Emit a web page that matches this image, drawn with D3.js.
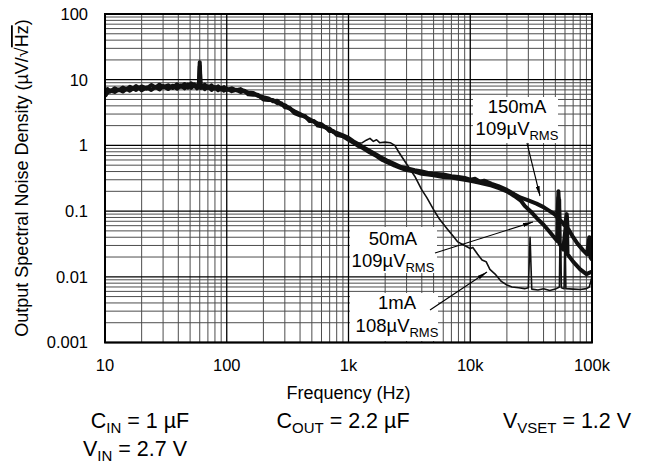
<!DOCTYPE html>
<html>
<head>
<meta charset="utf-8">
<script src="https://cdn.jsdelivr.net/npm/d3@7"></script>
<style>
  body { margin: 0; background: #fff; }
  text { font-family: "Liberation Sans", Arial, Helvetica, sans-serif; fill: #000; }
</style>
</head>
<body>
<div id="chart"></div>
<script>
// tick labels
const xTickVals = [10, 100, 1000, 10000, 100000];
const xTickText = ["10", "100", "1k", "10k", "100k"];
const yTickVals = [0.001, 0.01, 0.1, 1, 10, 100];
const yTickText = ["0.001", "0.01", "0.1", "1", "10", "100"];

// upper edge of the common band (10 Hz .. 1 kHz), [Hz, uV/rtHz]
const lowBandA = [[10,6.0],[10.5,7.2],[11,6.6],[12,7.4],[13,6.9],[14,7.6],[15,7.1],[16,7.8],[17,7.3],[18,8.0],[19,7.4],
  [20,7.9],[22,7.3],[24,8.3],[26,7.6],[28,8.4],[30,7.7],[33,8.2],[36,7.5],[39,8.5],[42,7.8],[45,8.6],[48,7.6],
  [51,8.8],[54,7.9],[57,8.3],[59,8.0],[60,18.5],[61,8.2],[63,7.6],[66,8.4],[70,7.5],[75,8.2],[80,7.3],[85,7.9],
  [90,7.1],[95,7.7],[100,7.0],[110,7.4],[120,6.9],[130,7.2],[140,6.6],[150,6.4],[165,6.3],[180,5.7],[200,5.4],
  [220,5.2],[240,4.7],[260,4.8],[280,4.2],[300,4.1],[330,3.6],[360,3.3],[400,3.0],[440,2.7],[480,2.5],[520,2.3],
  [560,2.15],[600,2.1],[650,1.85],[700,1.8],[750,1.6],[800,1.55],[900,1.42],[1000,1.3]];
// lower edge of the same band
const lowBandB = [[10,5.6],[10.5,6.4],[11,6.9],[12,6.5],[13,7.1],[14,6.6],[15,7.3],[16,6.8],[17,7.4],[18,7.0],[19,7.6],
  [20,6.9],[22,7.6],[24,7.0],[26,7.8],[28,7.1],[30,8.0],[33,7.2],[36,8.1],[39,7.3],[42,8.2],[45,7.4],[48,8.4],
  [51,7.5],[54,8.5],[57,7.4],[59,7.9],[60,16],[61,7.5],[63,8.1],[66,7.2],[70,7.9],[75,7.0],[80,7.7],[85,6.9],
  [90,7.5],[95,6.8],[100,7.3],[110,6.7],[120,7.0],[130,6.5],[140,6.8],[150,6.0],[165,5.9],[180,5.9],[200,5.0],
  [220,4.9],[240,4.9],[260,4.4],[280,4.4],[300,3.8],[330,3.7],[360,3.1],[400,2.85],[440,2.8],[480,2.35],[520,2.35],
  [560,2.0],[600,1.95],[650,1.9],[700,1.65],[750,1.65],[800,1.45],[900,1.38],[1000,1.22]];

// 150 mA and 50 mA run together until ~25 kHz
const midBandA = [[1100,1.15],[1200,1.05],[1300,0.95],[1500,0.82],[1700,0.72],[1900,0.64],[2100,0.58],[2400,0.52],
  [2700,0.47],[3000,0.45],[3500,0.42],[4000,0.40],[4500,0.38],[5000,0.37],[6000,0.36],[7000,0.34],[8000,0.33],
  [9000,0.32],[10000,0.30],[11000,0.31],[12000,0.28],[13000,0.29],[15000,0.26],[17000,0.24],[20000,0.21],
  [23000,0.18],[26000,0.16]];
const midBandB = [[1100,1.1],[1200,0.98],[1300,0.92],[1500,0.78],[1700,0.69],[1900,0.6],[2100,0.55],[2400,0.49],
  [2700,0.45],[3000,0.42],[3500,0.40],[4000,0.37],[4500,0.36],[5000,0.35],[6000,0.33],[7000,0.325],[8000,0.31],
  [9000,0.3],[10000,0.29],[11000,0.28],[12000,0.27],[13000,0.26],[15000,0.245],[17000,0.225],[20000,0.2],
  [23000,0.17],[26000,0.145]];

const tail150 = [[30000,0.145],[35000,0.13],[40000,0.115],[45000,0.1],[50000,0.088],[52000,0.08],[53000,0.2],
  [54000,0.075],[60000,0.06],[62000,0.09],[63000,0.056],[70000,0.04],[76000,0.032],[85000,0.025],[91000,0.022],
  [95000,0.04],[97000,0.02],[100000,0.018]];

const tail50 = [[28000,0.12],[32000,0.095],[36000,0.075],[40000,0.062],[45000,0.048],[50000,0.038],[52000,0.035],
  [53000,0.16],[54000,0.032],[58000,0.026],[62000,0.08],[63000,0.022],[70000,0.017],[80000,0.013],[90000,0.011],
  [100000,0.012]];

const tail1 = [[1100,1.15],[1200,1.08],[1300,1.1],[1400,1.2],[1500,1.28],[1600,1.15],[1700,1.22],[1800,1.1],
  [2000,1.12],[2200,1.1],[2400,1.0],[2600,0.78],[3000,0.52],[3500,0.34],[4000,0.21],[4400,0.16],[5000,0.105],
  [5600,0.075],[6500,0.053],[7200,0.042],[7900,0.034],[9000,0.030],[10000,0.027],[10500,0.028],[11500,0.022],
  [12500,0.018],[13500,0.017],[14500,0.013],[16000,0.011],[18000,0.0085],[20000,0.0075],[22000,0.007],
  [25000,0.0068],[28000,0.0066],[30000,0.0068],[31000,0.04],[32000,0.0065],[36000,0.0063],[40000,0.0066],
  [45000,0.0062],[50000,0.0065],[54000,0.007],[55000,0.15],[56000,0.0068],[59000,0.0066],[60000,0.06],
  [61000,0.0066],[70000,0.0065],[80000,0.0064],[90000,0.0066],[95000,0.007],[100000,0.01]];

const series150 = lowBandA.concat(midBandA, tail150);
const series50 = lowBandB.concat(midBandB, tail50);
const series1 = lowBandA.concat(tail1);

const W = 645, H = 466;
const margin = { top: 14, left: 105, right: 53, bottom: 123.5 };
const pw = W - margin.left - margin.right;
const ph = H - margin.top - margin.bottom;

const x = d3.scaleLog().domain([10, 100000]).range([0, pw]);
const y = d3.scaleLog().domain([0.001, 100]).range([ph, 0]);

const svg = d3.select("#chart").append("svg").attr("width", W).attr("height", H);

const defs = svg.append("defs");
defs.append("clipPath").attr("id", "plotClip").append("rect").attr("width", pw).attr("height", ph);
defs.append("marker").attr("id", "arrow").attr("viewBox", "0 0 10 4").attr("refX", 10).attr("refY", 2)
  .attr("markerWidth", 10).attr("markerHeight", 4).attr("markerUnits", "userSpaceOnUse").attr("orient", "auto")
  .append("path").attr("d", "M0,0L10,2L0,4Z").attr("fill", "#000");

const g = svg.append("g").attr("transform", "translate(" + margin.left + "," + margin.top + ")");

// grid: every 1..9 of each decade
let xMinor = [], yMinor = [];
for (let d = 10; d < 100000; d *= 10) for (let k = 2; k <= 9; k++) xMinor.push(d * k);
for (let d = 0.001; d < 99; d *= 10) for (let k = 2; k <= 9; k++) yMinor.push(d * k);

const grid = g.append("g");
grid.selectAll(".xm").data(xMinor).enter().append("line")
  .attr("x1", d => x(d)).attr("x2", d => x(d)).attr("y1", 0).attr("y2", ph)
  .attr("stroke", "#4d4d4d").attr("stroke-width", 1);
grid.selectAll(".ym").data(yMinor).enter().append("line")
  .attr("y1", d => y(d)).attr("y2", d => y(d)).attr("x1", 0).attr("x2", pw)
  .attr("stroke", "#4d4d4d").attr("stroke-width", 1);
grid.selectAll(".xM").data(xTickVals).enter().append("line")
  .attr("x1", d => x(d)).attr("x2", d => x(d)).attr("y1", 0).attr("y2", ph)
  .attr("stroke", "#000").attr("stroke-width", 1.3);
grid.selectAll(".yM").data(yTickVals).enter().append("line")
  .attr("y1", d => y(d)).attr("y2", d => y(d)).attr("x1", 0).attr("x2", pw)
  .attr("stroke", "#000").attr("stroke-width", 1.3);

// traces
const line = d3.line().x(d => x(d[0])).y(d => y(d[1]));
const traces = g.append("g").attr("clip-path", "url(#plotClip)");
traces.append("path").datum(series1).attr("d", line).attr("fill", "none")
  .attr("stroke", "#111").attr("stroke-width", 1.6).attr("stroke-linejoin", "round");
traces.append("path").datum(series50).attr("d", line).attr("fill", "none")
  .attr("stroke", "#111").attr("stroke-width", 4).attr("stroke-linejoin", "round");
traces.append("path").datum(series150).attr("d", line).attr("fill", "none")
  .attr("stroke", "#111").attr("stroke-width", 4).attr("stroke-linejoin", "round");

// border
g.append("rect").attr("width", pw).attr("height", ph).attr("fill", "none")
  .attr("stroke", "#000").attr("stroke-width", 2);

// tick labels
g.selectAll(".xt").data(xTickVals).enter().append("text")
  .attr("x", d => x(d)).attr("y", ph + 28).attr("text-anchor", "middle")
  .attr("font-size", 16.5).text((d, i) => xTickText[i]);
g.selectAll(".yt").data(yTickVals).enter().append("text")
  .attr("x", -17).attr("y", d => y(d)).attr("dy", "0.36em").attr("text-anchor", "end")
  .attr("font-size", 16.5).text((d, i) => yTickText[i]);

// axis titles
svg.append("text").attr("x", margin.left + pw / 2).attr("y", 399).attr("text-anchor", "middle")
  .attr("font-size", 18).text("Frequency (Hz)");
const yt = svg.append("text").attr("transform", "translate(28,178) rotate(-90)").attr("text-anchor", "middle")
  .attr("font-size", 18);
yt.append("tspan").text("Output Spectral Noise Density (µV/√");
yt.append("tspan").attr("text-decoration", "overline").text("Hz");
yt.append("tspan").text(")");

// annotations
const notes = [
  { a: "150mA", b: "109µV", cx: 517, y1: 113, y2: 135, box: [473, 97, 85, 46], from: [527, 143], to: [540, 196] },
  { a: "50mA", b: "109µV", cx: 393, y1: 245, y2: 267, box: [350, 227, 87, 46], from: [435, 253], to: [533, 222] },
  { a: "1mA", b: "108µV", cx: 397, y1: 309, y2: 332, box: [350, 293, 88, 48], from: [430, 310], to: [487, 272] }
];
notes.forEach(n => {
  svg.append("rect").attr("x", n.box[0]).attr("y", n.box[1]).attr("width", n.box[2]).attr("height", n.box[3])
    .attr("fill", "#fff");
  svg.append("text").attr("x", n.cx).attr("y", n.y1).attr("text-anchor", "middle").attr("font-size", 18.5).text(n.a);
  const t = svg.append("text").attr("x", n.cx).attr("y", n.y2).attr("text-anchor", "middle").attr("font-size", 18.5);
  t.append("tspan").text(n.b);
  t.append("tspan").attr("font-size", 13).attr("dy", 5).text("RMS");
  svg.append("line").attr("x1", n.from[0]).attr("y1", n.from[1]).attr("x2", n.to[0]).attr("y2", n.to[1])
    .attr("stroke", "#000").attr("stroke-width", 1.1).attr("marker-end", "url(#arrow)");
});

// conditions under the chart
function subText(xc, yb, parts) {
  const t = svg.append("text").attr("x", xc).attr("y", yb).attr("text-anchor", "middle").attr("font-size", 21.5);
  parts.forEach(p => {
    if (p.sub) t.append("tspan").attr("font-size", 15).attr("dy", 5).text(p.sub);
    else t.append("tspan").attr("dy", p.up ? -5 : 0).text(p.txt);
  });
}
subText(140, 428, [{ txt: "C" }, { sub: "IN" }, { txt: " = 1 µF", up: true }]);
subText(343, 428, [{ txt: "C" }, { sub: "OUT" }, { txt: " = 2.2 µF", up: true }]);
subText(567, 428, [{ txt: "V" }, { sub: "VSET" }, { txt: " = 1.2 V", up: true }]);
subText(135, 456, [{ txt: "V" }, { sub: "IN" }, { txt: " = 2.7 V", up: true }]);
</script>
</body>
</html>
